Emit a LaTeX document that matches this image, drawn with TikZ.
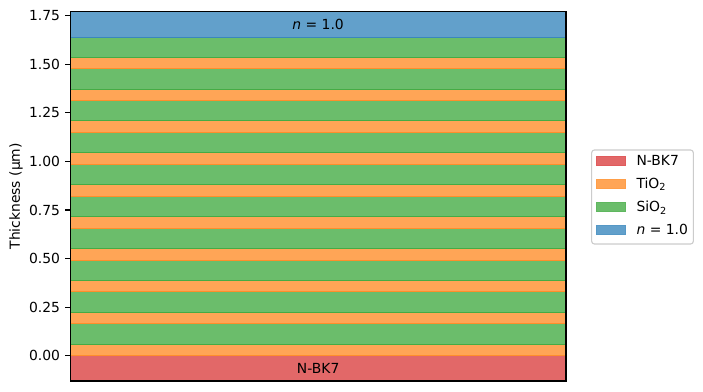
\documentclass[tikz,border=0pt]{standalone}
\usepackage{fontspec}
\setmainfont{DejaVu Sans}
\usetikzlibrary{positioning}
\definecolor{tabred}{HTML}{D62728}
\definecolor{taborange}{HTML}{FF7F0E}
\definecolor{tabgreen}{HTML}{2CA02C}
\definecolor{tabblue}{HTML}{1F77B4}
\tikzset{
% Layers and legend keys: transparent fill with a slightly darker edge
layer/.style={fill=#1!70!white,draw=#1!88!white,line width=0.75pt},
key patch/.style={fill=#1!70!white,draw=#1!76!white,line width=0.4pt,minimum width=20.9pt,minimum height=6.5pt,inner sep=0},
key text/.style={inner sep=0,anchor=base west},
legend frame/.style={draw=black!20,fill=white,fill opacity=0.8,rounded corners=2pt,line width=0.8pt}
}

\begin{document}
\begin{tikzpicture}[x=0.72pt,y=0.72pt,font=\fontsize{10}{12}\selectfont]
  \useasboundingbox (0,0) rectangle (703,391);
  % The stack: x in pixels, y in micrometres
  \begin{scope}[shift={(70.3,35.3)},y=139.9pt]
    \coordinate (ll) at (0,-0.13);
    \coordinate (ur) at (495.7,1.77);
    % Substrate
    \draw[layer=tabred] (ll) rectangle (495.7,0);
    % Ten periods of TiO2 / SiO2
    \foreach \i in {0,...,9}{
      \draw[layer=taborange] (0,{\i*0.164}) rectangle (495.7,{\i*0.164+0.06});
      \draw[layer=tabgreen] (0,{\i*0.164+0.06}) rectangle (495.7,{(\i+1)*0.164});
    }
    % Ambient medium
    \draw[layer=tabblue] (0,1.64) rectangle (ur);
    % Frame and ticks
    \draw[line width=0.8pt] (ll) rectangle (ur);
    \foreach \v [count=\k] in {0.00,0.25,0.50,0.75,1.00,1.25,1.50,1.75}{
      \draw[line width=0.8pt] (0,\v) -- ++(-3.5pt,0)
        node[anchor=east,inner sep=0,xshift=-3.5pt] (tick\k) {\v};
    }
    % Layer names
    \node (ambient) at (247.85,1.705) {\textit{n} = 1.0};
    \node (substrate) at (247.85,-0.065) {N-BK7};
  \end{scope}
  \node[rotate=90] (ylabel) at (16,194.7) {Thickness (µm)};
  % Legend
  \node[legend frame,minimum width=73.2pt,minimum height=67.7pt] (legend) at (642.5,194) {};
  \node[key patch=tabred] (keyBK) at (610.5,229.8) {};
  \node[key patch=taborange] (keyTi) at (610.5,207.5) {};
  \node[key patch=tabgreen] (keySi) at (610.5,183.8) {};
  \node[key patch=tabblue] (keyN) at (610.5,161.5) {};
  \node[right=7.9pt of keyBK.south east,key text] (textBK) {N-BK7};
  \node[right=7.9pt of keyTi.south east,key text] (textTi) {TiO\textsubscript{2}};
  \node[right=7.9pt of keySi.south east,key text] (textSi) {SiO\textsubscript{2}};
  \node[right=7.9pt of keyN.south east,key text] (textN) {\textit{n} = 1.0};
\end{tikzpicture}
\end{document}
